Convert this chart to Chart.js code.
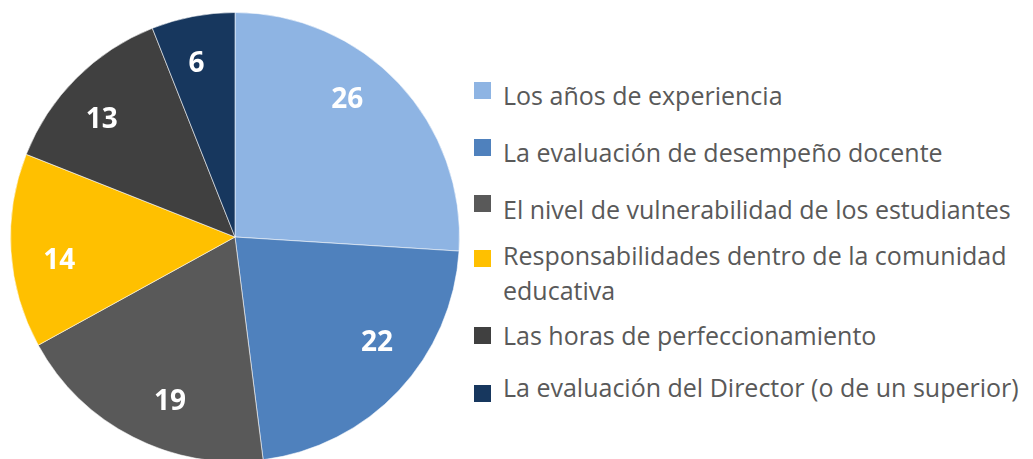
<!DOCTYPE html>
<html>
<head>
<meta charset="utf-8">
<script src="https://cdn.jsdelivr.net/npm/chart.js@4.4.1/dist/chart.umd.min.js"></script>
<style>
  html, body { margin: 0; padding: 0; background: #fff; }
  body { width: 1033px; height: 459px; overflow: hidden; position: relative; font-family: "Open Sans", Lato, sans-serif; }
  #pieBox { position: absolute; left: 0; top: 0; width: 470px; height: 474px; }
  #legend { position: absolute; left: 0; top: 0; }
  .item { position: absolute; left: 474px; white-space: nowrap; }
  .swatch { position: absolute; left: 0; width: 17px; height: 17px; }
  .text { position: absolute; left: 29px; font-size: 25px; line-height: 35px; color: #595959; }
</style>
</head>
<body>
<div id="pieBox"><canvas id="pie"></canvas></div>
<div id="legend"></div>
<script>
// categories and counts
const categories = [
    'Los años de experiencia',
    'La evaluación de desempeño docente',
    'El nivel de vulnerabilidad de los estudiantes',
    ['Responsabilidades dentro de la comunidad', 'educativa'],
    'Las horas de perfeccionamiento',
    'La evaluación del Director (o de un superior)'
];
const counts = [26, 22, 19, 14, 13, 6];
const sliceColors = ['#8EB4E3', '#4F81BD', '#595959', '#FFC000', '#404040', '#17375E'];

// white numbers inside each slice
const valueLabels = {
    id: 'valueLabels',
    afterDatasetsDraw(chart) {
        const ctx = chart.ctx;
        const meta = chart.getDatasetMeta(0);
        ctx.save();
        ctx.fillStyle = '#ffffff';
        ctx.font = 'bold 28px "Open Sans", Lato, sans-serif';
        ctx.textAlign = 'center';
        ctx.textBaseline = 'middle';
        meta.data.forEach((arc, i) => {
            const p = arc.getProps(['x', 'y', 'startAngle', 'endAngle', 'outerRadius'], true);
            const a = p.startAngle + (p.endAngle - p.startAngle) * 0.42;
            const r = p.outerRadius * 0.79;
            ctx.fillText(String(chart.data.datasets[0].data[i]), p.x + Math.cos(a) * r, p.y + Math.sin(a) * r);
        });
        ctx.restore();
    }
};

function createChart(id, config) {
    try {
        return new Chart(id, config);
    } catch (e) {
        console.log(e);
    }
}

const chart = createChart('pie', {
    type: 'pie',
    data: {
        labels: categories,
        datasets: [{
            data: counts,
            backgroundColor: sliceColors,
            borderColor: 'rgba(255,255,255,0.55)',
            borderWidth: 1
        }]
    },
    options: {
        responsive: true,
        maintainAspectRatio: false,
        animation: false,
        layout: { padding: { left: 10, right: 10, top: 12, bottom: 12 } },
        plugins: {
            legend: { display: false },
            tooltip: { enabled: false }
        }
    },
    plugins: [valueLabels]
});

// legend on the right, one row per category
function buildLegend(chart) {
    const box = document.getElementById('legend');
    const rowTops = [78, 135, 192, 238, 318, 370];
    const swatchTops = [4, 4, 3, 12, 9, 15];
    chart.data.labels.forEach((label, i) => {
        const item = document.createElement('div');
        item.className = 'item';
        item.style.top = rowTops[i] + 'px';
        const sw = document.createElement('div');
        sw.className = 'swatch';
        sw.style.top = swatchTops[i] + 'px';
        sw.style.background = chart.data.datasets[0].backgroundColor[i];
        const tx = document.createElement('div');
        tx.className = 'text';
        tx.innerHTML = Array.isArray(label) ? label.join('<br>') : label;
        item.appendChild(sw);
        item.appendChild(tx);
        box.appendChild(item);
    });
}
buildLegend(chart);
</script>
</body>
</html>
